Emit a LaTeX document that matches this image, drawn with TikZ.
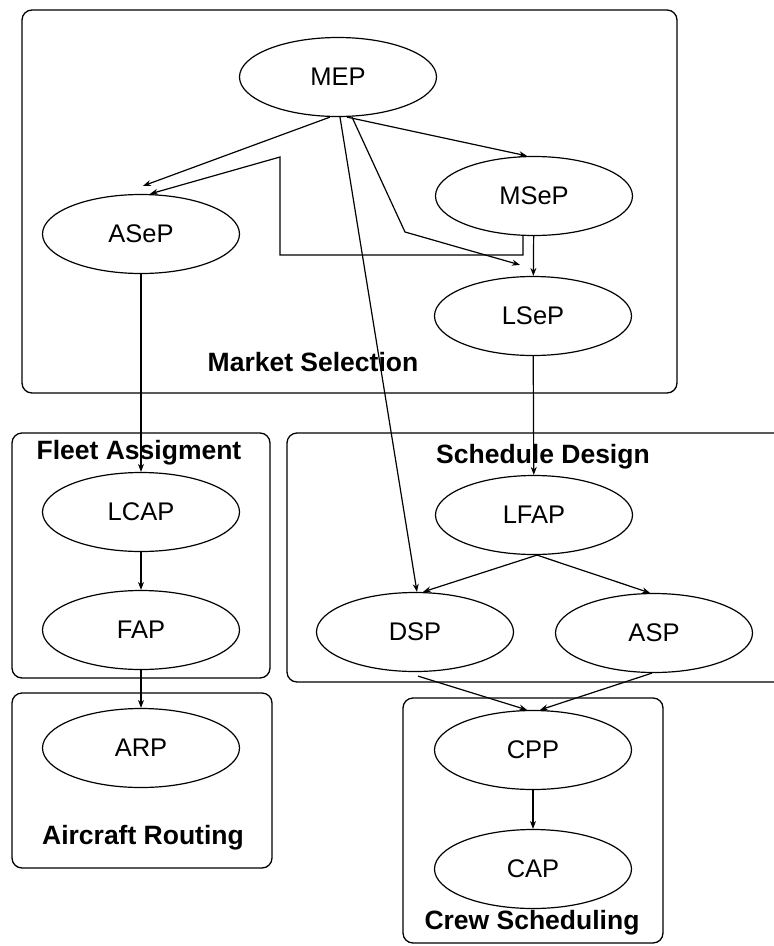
\documentclass[tikz,border=0pt]{standalone}
\usepackage{fontspec}
\setmainfont{Liberation Sans}
\usetikzlibrary{shapes.geometric,arrows.meta}
\begin{document}
\begin{tikzpicture}[x=1pt,y=-1pt,
  proc/.style={ellipse,draw,line width=1.2pt,minimum width=197pt,minimum height=79pt,
    inner sep=0pt,font=\fontsize{25.5}{30}\selectfont},
  group/.style={draw,line width=1.3pt,rounded corners=10pt},
  grouplabel/.style={font=\bfseries\fontsize{26.5}{30}\selectfont,inner sep=0pt},
  link/.style={draw,line width=1.2pt,-{Stealth[length=8pt,width=6pt]}},
]
\useasboundingbox (0,0) rectangle (774,946);

% group frames
\draw[group] (22,10) rectangle (677,393);
\draw[group] (12,433) rectangle (270,678);
\draw[group] (12,693) rectangle (272,868);
\draw[group] (774,433) -| (287,682) -- (774,682);
\draw[group] (403,698) rectangle (663,943);

% group titles
\node[grouplabel] (gMarket)   at (313,362) {Market Selection};
\node[grouplabel] (gFleet)    at (139,453) {Fleet Assigment};
\node[grouplabel] (gSchedule) at (543,457) {Schedule Design};
\node[grouplabel] (gRouting)  at (143,838) {Aircraft Routing};
\node[grouplabel] (gCrew)     at (532,923) {Crew Scheduling};

% problems
\node[proc] (MEP)  at (338,77)  {MEP};
\node[proc] (ASeP) at (141,234) {ASeP};
\node[proc] (MSeP) at (534,196) {MSeP};
\node[proc] (LSeP) at (533,316) {LSeP};
\node[proc] (LCAP) at (141,512) {LCAP};
\node[proc] (FAP)  at (141,630) {FAP};
\node[proc] (ARP)  at (141,748) {ARP};
\node[proc] (LFAP) at (534,515) {LFAP};
\node[proc] (DSP)  at (415,632) {DSP};
\node[proc] (ASP)  at (654,633) {ASP};
\node[proc] (CPP)  at (533,750) {CPP};
\node[proc] (CAP)  at (533,869) {CAP};

% bend points of routed links
\coordinate (k1) at (280,255);
\coordinate (k2) at (280,157);
\coordinate (k3) at (405,232);

% links
\draw[link] ([xshift=-8pt]MEP.south) -- ([xshift=2pt,yshift=8pt]ASeP.north);
\draw[link] ([xshift=-11pt]MSeP.south) |- (k1) -- (k2) -- ([xshift=9pt]ASeP.north);
\draw[link] ([xshift=9pt]MEP.south) -- ([xshift=-7pt]MSeP.north);
\draw[link] ([xshift=14pt]MEP.south) -- (k3) -- ([xshift=-13pt,yshift=11pt]LSeP.north);
\draw[link] ([xshift=2pt]MEP.south) -- ([xshift=2pt]DSP.north);
\draw[link] (MSeP) -- (LSeP);
\draw[link] (ASeP) -- (LCAP);
\draw[link] (LSeP) -- (LFAP);
\draw[link] (LCAP) -- (FAP);
\draw[link] (FAP) -- (ARP);
\draw[link] ([xshift=3pt]LFAP.south) -- ([xshift=8pt]DSP.north);
\draw[link] ([xshift=3pt]LFAP.south) -- ([xshift=-4pt]ASP.north);
\draw[link] ([xshift=3pt,yshift=-4pt]DSP.south) -- ([xshift=-6pt]CPP.north);
\draw[link] ([xshift=-2pt]ASP.south) -- ([xshift=7pt]CPP.north);
\draw[link] (CPP) -- (CAP);
\end{tikzpicture}
\end{document}
